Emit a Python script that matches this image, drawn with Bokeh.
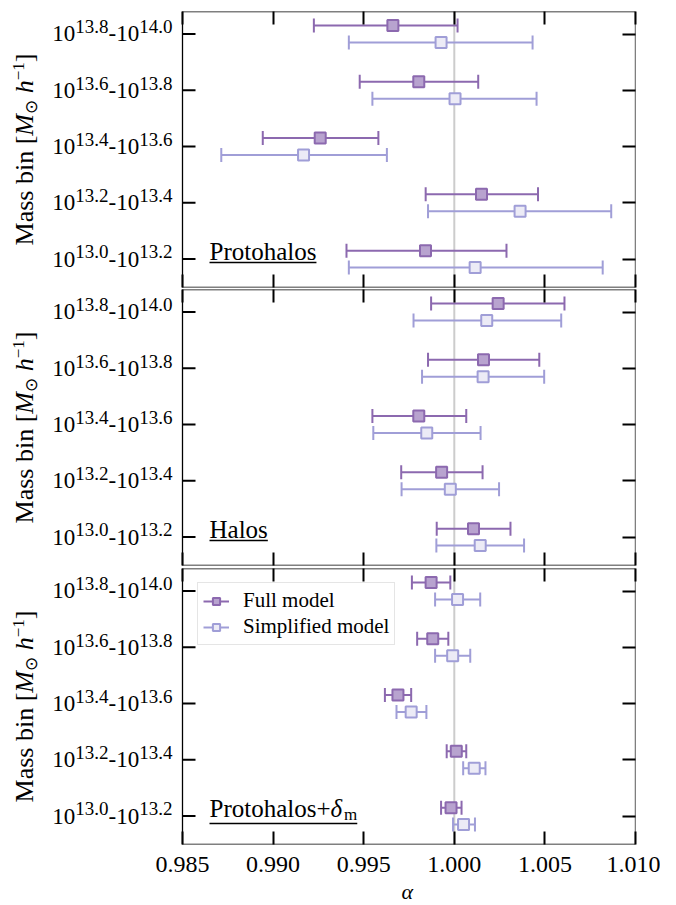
import math
from bokeh.plotting import figure
from bokeh.models import (Range1d, FixedTicker, LinearAxis, Span, Legend, Title,
                          LegendItem, BoxAnnotation, ColumnDataSource, CustomJSTickFormatter)
from bokeh.core.properties import value
from bokeh.layouts import column
from bokeh.embed import file_html
from bokeh.resources import INLINE

# ---------------- data ----------------
x_ticks = [0.985, 0.990, 0.995, 1.000, 1.005, 1.010]
x_tick_labels = ["0.985", "0.990", "0.995", "1.000", "1.005", "1.010"]
bin_index = [0, 1, 2, 3, 4]
bin_lo_exp = ["13.0", "13.2", "13.4", "13.6", "13.8"]
bin_hi_exp = ["13.2", "13.4", "13.6", "13.8", "14.0"]
panel_names = ["Protohalos", "Halos", "Protohalos+δm"]
series_names = ["Full model", "Simplified model"]

# Protohalos
proto_full_alpha = [0.99841, 1.00150, 0.99260, 0.99804, 0.99661]
proto_full_lo    = [0.99405, 0.99842, 0.98943, 0.99478, 0.99225]
proto_full_hi    = [1.00288, 1.00462, 0.99581, 1.00132, 1.00018]
proto_simp_alpha = [1.00115, 1.00363, 0.99168, 1.00004, 0.99927]
proto_simp_lo    = [0.99418, 0.99855, 0.98714, 0.99548, 0.99418]
proto_simp_hi    = [1.00819, 1.00866, 0.99628, 1.00454, 1.00432]
# Halos
halo_full_alpha = [1.00106, 0.99930, 0.99804, 1.00161, 1.00242]
halo_full_lo    = [0.99903, 0.99707, 0.99548, 0.99855, 0.99872]
halo_full_hi    = [1.00310, 1.00156, 1.00066, 1.00469, 1.00608]
halo_simp_alpha = [1.00143, 0.99978, 0.99848, 1.00159, 1.00179]
halo_simp_lo    = [0.99901, 0.99709, 0.99553, 0.99822, 0.99775]
halo_simp_hi    = [1.00385, 1.00247, 1.00145, 1.00496, 1.00590]
# Protohalos + delta_m
pdm_full_alpha = [0.99982, 1.00011, 0.99689, 0.99881, 0.99872]
pdm_full_lo    = [0.99927, 0.99958, 0.99617, 0.99795, 0.99766]
pdm_full_hi    = [1.00040, 1.00066, 0.99762, 0.99967, 0.99978]
pdm_simp_alpha = [1.00051, 1.00110, 0.99762, 0.99991, 1.00018]
pdm_simp_lo    = [0.99993, 1.00049, 0.99681, 0.99894, 0.99894]
pdm_simp_hi    = [1.00114, 1.00172, 0.99846, 1.00088, 1.00143]

# ---------------- style ----------------
FONT = "Liberation Serif"
FULL_LINE, FULL_FILL = "#8c69af", "#b8a3cf"
SIMP_LINE, SIMP_FILL = "#a09ed7", "#ecebf6"
X0, X1 = 0.985, 1.010
Y0, Y1 = -0.505, 4.40
FW, FH = 453, 276          # size of the visible axes box
LEFT = 182                  # page x of the axes box left edge
BR = 25
PX2X = (X1 - X0) / FW
PX2Y = (Y1 - Y0) / FH
XL = X0 - LEFT * PX2X       # data x at page x = 0
OFF = 0.15
SHIFT = 0.35                # baseline correction (em)


def px(page_x):
    return X0 + (page_x - LEFT) * PX2X


def txt(p, xs, ys, texts, size, style="normal", angle=0.0):
    if angle == 0.0:
        ys = [y + SHIFT * size * PX2Y for y in ys]
    else:
        xs = [x - SHIFT * size * PX2X for x in xs]
    p.text(x=xs, y=ys, text=texts, angle=angle,
           text_font=value(FONT), text_font_size=value(f"{size}px"),
           text_font_style=value(style), text_color=value("black"),
           text_align=value("left"), text_baseline=value("alphabetic"))


def style_axis(ax, ticks, labels=False):
    ax.ticker = FixedTicker(ticks=ticks, minor_ticks=[])
    ax.major_tick_in = 13
    ax.major_tick_out = 0
    ax.major_tick_line_width = 2
    ax.major_tick_line_color = "black"
    ax.minor_tick_line_color = None
    ax.axis_line_color = None
    if not labels:
        ax.formatter = CustomJSTickFormatter(code="return ''")
        ax.major_label_text_font_size = "0px"
        ax.major_label_standoff = 0


def draw_series(p, center, lo, hi, dy, lc, fc):
    ys = [i + dy for i in bin_index]
    src = ColumnDataSource(dict(y=ys, c=center, lo=lo, hi=hi))
    seg = p.segment(x0="lo", x1="hi", y0="y", y1="y", source=src,
                    line_color=lc, line_width=2)
    p.scatter(x="lo", y="y", source=src, marker="dash", angle=math.pi / 2,
              size=14, line_color=lc, line_width=2)
    p.scatter(x="hi", y="y", source=src, marker="dash", angle=math.pi / 2,
              size=14, line_color=lc, line_width=2)
    sq = p.scatter(x="c", y="y", source=src, marker="square", size=11,
                   fill_color=fc, line_color=lc, line_width=2)
    return seg, sq


def add_ytick_labels(p):
    bfs, sfs = 23, 19
    widths = [1.0 * bfs, 1.75 * sfs, 0.333 * bfs, 1.0 * bfs, 1.75 * sfs]
    x = LEFT - 10 - sum(widths)
    starts = []
    for w in widths:
        starts.append(px(x))
        x += w
    yb = [i - 8 * PX2Y for i in bin_index]
    ys = [i + 0.5 * PX2Y for i in bin_index]
    n = len(bin_index)
    txt(p, [starts[0]] * n, yb, ["10"] * n, bfs)
    txt(p, [starts[1]] * n, ys, bin_lo_exp, sfs)
    txt(p, [starts[2]] * n, yb, ["-"] * n, bfs)
    txt(p, [starts[3]] * n, yb, ["10"] * n, bfs)
    txt(p, [starts[4]] * n, ys, bin_hi_exp, sfs)


def add_ylabel(p):
    fs, s2 = 26, 17
    parts = [("Mass bin [", fs, "normal", 0, 4.222 * fs),
             ("M", fs, "italic", 0, 0.833 * fs),
             ("⊙", s2, "normal", 4, 0.84 * s2 + 0.25 * fs),
             ("h", fs, "italic", 0, 0.5 * fs),
             ("−1", s2, "normal", -9, 1.064 * s2),
             ("]", fs, "normal", 0, 0.333 * fs)]
    total = sum(pt[-1] for pt in parts)
    yc = (Y0 + Y1) / 2
    yy = yc - total / 2 * PX2Y
    for t, f, st, sh, w in parts:
        txt(p, [px(33 + sh)], [yy], [t], f, style=st, angle=math.pi / 2)
        yy += w * PX2Y


def add_panel_name(p, k):
    fs = 25
    x0 = px(LEFT + 27)
    yb = Y0 + 27.7 * PX2Y
    if k < 2:
        w = (4.278 if k == 0 else 2.333) * fs
        txt(p, [x0], [yb], [panel_names[k]], fs)
        u = 25.0
    else:
        w1 = 4.842 * fs
        w2 = 0.5 * fs
        w3 = 0.778 * 17
        txt(p, [x0], [yb], ["Protohalos+"], fs)
        txt(p, [x0 + w1 * PX2X], [yb], ["δ"], fs, style="italic")
        txt(p, [x0 + (w1 + w2 + 1) * PX2X], [yb - 4 * PX2Y], ["m"], 17)
        w = w1 + w2 + w3 + 1
        u = 21.0
    p.add_layout(BoxAnnotation(left=x0, right=x0 + w * PX2X,
                               bottom=Y0 + (u - 0.7) * PX2Y, top=Y0 + (u + 0.7) * PX2Y,
                               fill_color="black", fill_alpha=1, line_color=None))


datasets = [
    (proto_full_alpha, proto_full_lo, proto_full_hi, proto_simp_alpha, proto_simp_lo, proto_simp_hi),
    (halo_full_alpha, halo_full_lo, halo_full_hi, halo_simp_alpha, halo_simp_lo, halo_simp_hi),
    (pdm_full_alpha, pdm_full_lo, pdm_full_hi, pdm_simp_alpha, pdm_simp_lo, pdm_simp_hi),
]
tops = [11, 1, 2]
bottoms = [1, 1, 61]

figs = []
for k, (fa, fl, fh, sa, sl, sh) in enumerate(datasets):
    last = (k == 2)
    p = figure(frame_width=LEFT + FW, frame_height=FH,
               x_range=Range1d(XL, X1), y_range=Range1d(Y0, Y1),
               output_backend="svg", toolbar_location=None,
               x_axis_location=None, y_axis_location=None,
               min_border_left=0, min_border_right=BR,
               min_border_top=tops[k], min_border_bottom=bottoms[k])
    p.grid.visible = False
    p.outline_line_color = None
    p.background_fill_color = "white"
    p.border_fill_color = "white"

    bottom_ax = LinearAxis()
    top_ax = LinearAxis()
    right_ax = LinearAxis()
    style_axis(bottom_ax, x_ticks, labels=last)
    style_axis(top_ax, x_ticks)
    style_axis(right_ax, bin_index)
    if last:
        bottom_ax.major_label_overrides = {t: l for t, l in zip(x_ticks, x_tick_labels)}
        bottom_ax.major_label_text_font = FONT
        bottom_ax.major_label_text_font_size = "24px"
        bottom_ax.major_label_text_color = "black"
        bottom_ax.major_label_standoff = 12
    p.add_layout(bottom_ax, "below")
    p.add_layout(top_ax, "above")
    p.add_layout(right_ax, "right")
    if last:
        p.add_layout(Title(text="α", align="left", offset=401, text_font=FONT,
                           text_font_size="22px", text_font_style="italic",
                           text_color="black", standoff=5), "below")

    # axes box and left ticks
    p.add_layout(BoxAnnotation(left=X0, right=X1, bottom=Y0, top=Y1,
                               fill_alpha=0, line_color="black", line_alpha=1,
                               line_width=1.3, level="overlay"))
    p.ray(x=[X0] * len(bin_index), y=bin_index, length=13, length_units="screen",
          angle=0, line_color="black", line_width=2)

    p.add_layout(Span(location=1.0, dimension="height", line_color="#cccccc",
                      line_width=2, level="underlay"))

    seg_f, sq_f = draw_series(p, fa, fl, fh, OFF, FULL_LINE, FULL_FILL)
    seg_s, sq_s = draw_series(p, sa, sl, sh, -OFF, SIMP_LINE, SIMP_FILL)

    add_ytick_labels(p)
    add_ylabel(p)
    add_panel_name(p, k)

    if last:
        legend = Legend(items=[LegendItem(label=series_names[0], renderers=[seg_f, sq_f]),
                               LegendItem(label=series_names[1], renderers=[seg_s, sq_s])],
                        location=(LEFT + 15, 199), padding=5, spacing=1,
                        glyph_width=26, glyph_height=18, label_height=20,
                        label_standoff=14, label_text_font=FONT,
                        label_text_font_size="21px", label_text_color="black",
                        border_line_color="#cccccc", border_line_width=1.5,
                        background_fill_color="white", background_fill_alpha=1)
        p.add_layout(legend)
    figs.append(p)

layout = column(*figs, spacing=0)
open("out.html", "w").write(file_html(layout, INLINE))
